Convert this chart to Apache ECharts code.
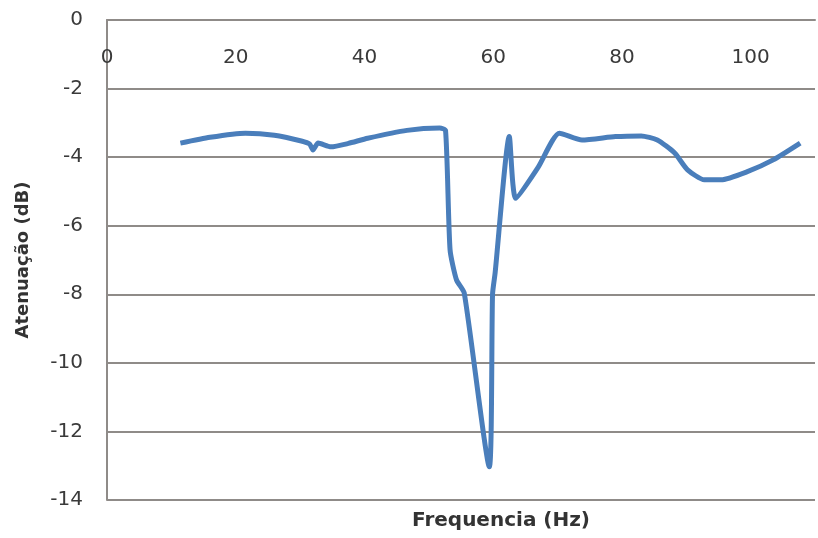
<!DOCTYPE html>
<html>
<head>
<meta charset="utf-8">
<script src="https://cdn.jsdelivr.net/npm/echarts@6/dist/echarts.min.js"></script>
<style>
html,body{margin:0;padding:0;background:#fff;}
#chart{width:818px;height:538px;}
</style>
</head>
<body>
<div id="chart"></div>
<script>
// Data
var freq = [11.4, 16, 21.5, 26, 30.2, 31.5, 32, 32.8, 34.8, 37.5, 40.5, 46.6, 51.7, 52.6, 53.3, 54.3, 55.5, 59.4, 59.9, 60.3, 62.5, 63.5, 67, 70.3, 73.8, 79, 83, 85.5, 88.2, 90.2, 92.8, 95.4, 99.4, 103.5, 107.7];
var atten = [-3.59, -3.42, -3.3, -3.36, -3.53, -3.62, -3.79, -3.59, -3.7, -3.6, -3.45, -3.22, -3.15, -3.22, -6.7, -7.58, -7.96, -13.03, -8.0, -7.38, -3.4, -5.2, -4.29, -3.3, -3.5, -3.4, -3.38, -3.5, -3.88, -4.37, -4.66, -4.66, -4.43, -4.08, -3.59];
var xTicks = [0, 20, 40, 60, 80, 100];
var yTicks = [0, -2, -4, -6, -8, -10, -12, -14];
var xTitle = 'Frequencia (Hz)';
var yTitle = 'Atenuação (dB)';

var points = freq.map(function (f, i) { return [f, atten[i]]; });
var font = 'DejaVu Sans';
var gridColor = '#8f8b88';

var chart = echarts.init(document.getElementById('chart'));
chart.setOption({
  backgroundColor: '#ffffff',
  animation: false,
  grid: { left: 107, top: 20, width: 715, height: 480, containLabel: false },
  xAxis: {
    type: 'value',
    position: 'top',
    min: 0, max: 110, interval: 20,
    axisLine: { show: true, lineStyle: { color: gridColor, width: 2 } },
    axisTick: { show: false },
    splitLine: { show: false },
    axisLabel: {
      inside: true, margin: 28,
      color: '#3a3a3a', fontFamily: font, fontSize: 20,
      formatter: function (v) { return xTicks.indexOf(v) >= 0 ? String(v) : ''; }
    }
  },
  yAxis: {
    type: 'value',
    min: -14, max: 0, interval: 2,
    axisLine: { show: true, lineStyle: { color: gridColor, width: 2 } },
    axisTick: { show: false },
    splitLine: { show: true, lineStyle: { color: gridColor, width: 2 } },
    axisLabel: {
      margin: 24, color: '#3a3a3a', fontFamily: font, fontSize: 20,
      formatter: function (v) { return yTicks.indexOf(v) >= 0 ? String(v) : ''; }
    },
    name: yTitle,
    nameLocation: 'middle',
    nameGap: 75,
    nameRotate: 90,
    nameTextStyle: { fontFamily: font, fontSize: 18, fontWeight: 'bold', color: '#333' }
  },
  graphic: [{
    type: 'text',
    left: 500 - 88, top: 511,
    style: { text: xTitle, font: 'bold 20px "DejaVu Sans"', fill: '#333' }
  }],
  series: [{
    type: 'line',
    data: points,
    smooth: 0.2,
    showSymbol: false,
    symbol: 'none',
    lineStyle: { color: '#4A7EBB', width: 5 },
    clip: true
  }]
});
</script>
</body>
</html>
